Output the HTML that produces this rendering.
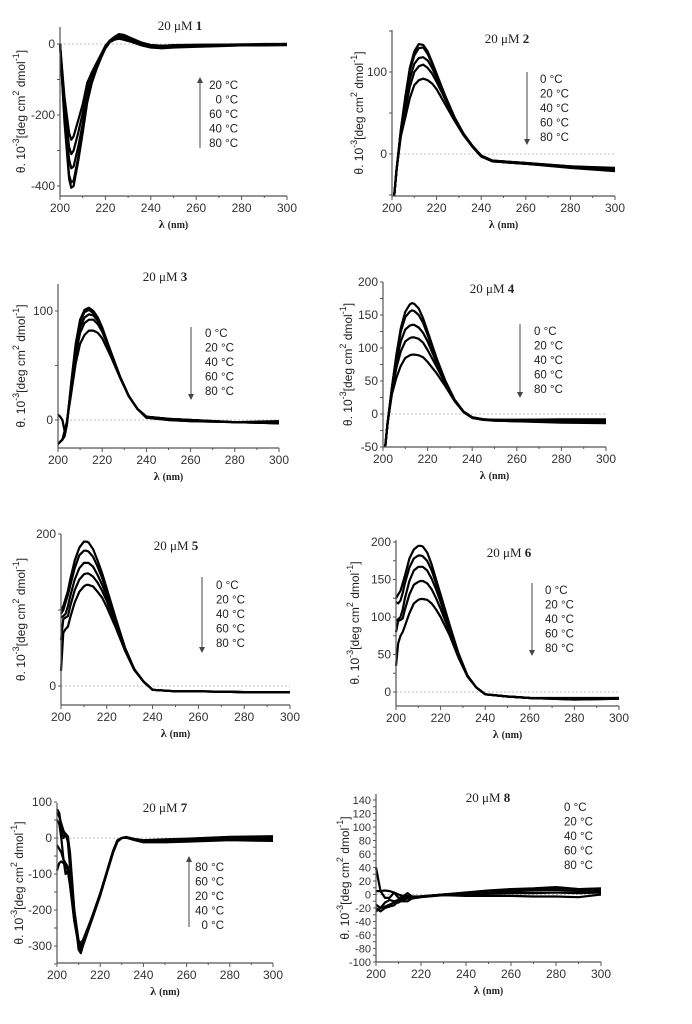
<!DOCTYPE html>
<html><head><meta charset="utf-8"><style>
html,body{margin:0;padding:0;background:#fff;}
svg{display:block;font-family:"Liberation Sans",Arial,sans-serif;}
</style></head><body>
<svg id="fig" width="692" height="1024" viewBox="0 0 692 1024" xmlns="http://www.w3.org/2000/svg"></svg>
<script>
// ---- data ----
const temps = ["0 °C","20 °C","40 °C","60 °C","80 °C"];
const w1 = [200,202,204,205,206,208,210,212,214,216,218,220,222,224,226,228,232,236,240,245,250,260,270,280,290,300];
const p1_0 = [0,-170,-290,-310,-300,-250,-195,-130,-90,-60,-33,-8,10,20,25,22,12,3,-3,-5,-4,-3,-2,-2,-1,0];
const p1_20 = [0,-150,-250,-270,-260,-215,-170,-110,-80,-55,-30,-5,10,18,20,18,10,2,-3,-5,-3,-2,-2,-1,0,0];
const p1_40 = [0,-210,-370,-390,-385,-320,-240,-160,-105,-70,-38,-10,8,20,28,26,15,4,-3,-6,-4,-3,-2,-2,-1,0];
const p1_60 = [0,-190,-325,-350,-345,-290,-225,-150,-100,-65,-35,-8,8,18,22,20,10,2,-5,-8,-6,-4,-3,-2,-2,-1];
const p1_80 = [0,-220,-380,-405,-400,-330,-250,-165,-110,-72,-40,-12,5,12,15,12,5,-4,-10,-12,-10,-8,-6,-4,-4,-3];
const w2 = [201,202,204,206,208,210,212,214,216,218,220,224,228,232,236,240,245,250,260,280,300];
const p2_0 = [-55,-20,30,70,105,125,134,133,125,112,98,70,45,25,10,-2,-8,-9,-11,-15,-17];
const p2_20 = [-55,-20,30,70,102,120,129,130,122,110,96,70,45,25,10,-2,-8,-9,-11,-15,-18];
const p2_40 = [-55,-20,28,62,92,110,117,118,114,105,93,68,44,25,10,-2,-8,-10,-12,-16,-20];
const p2_60 = [-55,-20,25,55,82,100,107,109,105,98,88,66,43,24,9,-3,-9,-10,-12,-17,-21];
const p2_80 = [-55,-20,22,45,68,84,90,92,90,86,79,60,41,23,9,-3,-9,-10,-12,-16,-19];
const w3 = [200,201,202,203,204,206,208,210,212,214,216,218,220,224,228,232,236,240,250,260,280,300];
const p3_0 = [5,3,0,-10,-5,35,70,92,101,103,100,94,85,62,40,22,10,3,1,0,-2,-1];
const p3_20 = [-22,-20,-18,-15,-5,33,68,90,99,101,98,93,84,62,40,22,10,3,1,0,-2,-2];
const p3_40 = [-22,-20,-18,-12,-3,32,65,85,94,97,96,91,83,62,40,22,10,3,1,0,-2,-3];
const p3_60 = [-22,-20,-18,-12,-3,30,60,80,89,92,92,88,81,61,40,22,10,3,0,-1,-2,-3];
const p3_80 = [-22,-20,-18,-10,-2,25,52,70,78,82,82,80,75,58,39,22,10,2,0,-1,-2,-3];
const w4 = [201,202,204,206,208,210,212,213,214,216,218,220,224,228,232,236,240,245,250,260,280,300];
const p4_0 = [-50,-15,40,90,130,155,166,168,167,160,145,125,85,50,22,4,-5,-8,-9,-9,-8,-8];
const p4_20 = [-50,-15,40,88,125,147,155,157,156,150,138,120,82,50,22,4,-5,-8,-9,-9,-9,-9];
const p4_40 = [-50,-15,38,80,110,128,134,135,135,131,123,110,78,48,22,4,-5,-8,-9,-10,-10,-10];
const p4_60 = [-50,-15,35,70,95,110,115,116,116,114,108,97,72,46,21,4,-5,-8,-10,-11,-12,-13];
const p4_80 = [-50,-15,30,55,73,85,89,90,90,89,86,79,62,42,20,3,-6,-9,-10,-11,-13,-14];
const w5 = [200,201,202,203,204,206,208,210,211,212,214,216,218,220,224,228,232,236,240,250,260,280,300];
const p5_0 = [100,105,115,125,140,165,182,190,190,189,180,165,148,128,88,50,22,6,-5,-7,-7,-8,-8];
const p5_20 = [95,100,110,120,132,155,172,178,178,177,170,157,142,124,86,50,22,6,-5,-7,-7,-8,-8];
const p5_40 = [90,92,95,105,118,140,155,162,162,162,157,146,133,118,84,49,22,6,-5,-7,-7,-8,-8];
const p5_60 = [60,88,90,92,105,126,140,147,148,148,144,136,125,112,80,48,21,6,-5,-7,-7,-8,-8];
const p5_80 = [20,70,75,78,90,110,124,131,133,133,131,124,116,104,76,46,21,6,-5,-7,-7,-8,-8];
const w6 = [200,201,202,203,204,206,208,210,211,212,214,216,218,220,224,228,232,236,240,250,260,280,300];
const p6_0 = [125,130,135,145,155,178,190,195,195,194,186,170,150,130,90,52,22,6,-3,-6,-8,-8,-8];
const p6_20 = [120,118,122,132,145,166,178,182,182,181,175,162,145,126,88,51,22,6,-3,-6,-8,-9,-8];
const p6_40 = [95,97,100,110,125,148,162,167,167,167,162,151,137,120,85,50,22,6,-3,-6,-8,-9,-9];
const p6_60 = [80,95,96,98,110,130,143,147,148,148,145,137,125,111,81,48,21,6,-3,-6,-8,-10,-9];
const p6_80 = [35,65,75,80,88,105,118,123,124,124,123,118,110,100,76,46,21,6,-3,-6,-8,-10,-9];
const w7 = [200,201,202,203,204,205,206,208,210,211,212,214,216,218,220,222,224,226,228,230,232,236,240,250,260,280,300];
const p7_0 = [80,70,30,0,12,5,-40,-200,-310,-320,-300,-265,-230,-195,-160,-120,-80,-40,-10,0,2,-5,-10,-9,-7,-3,-5];
const p7_20 = [-20,-30,-40,-60,-70,-80,-120,-220,-295,-305,-290,-258,-226,-190,-155,-116,-76,-36,-7,0,1,-5,-10,-8,-5,0,0];
const p7_40 = [50,40,0,-60,-100,-90,-130,-230,-300,-310,-295,-260,-228,-192,-158,-118,-78,-38,-8,0,1,-6,-12,-12,-10,-6,-8];
const p7_60 = [-90,-70,-65,-70,-75,-90,-130,-230,-290,-298,-288,-256,-224,-190,-155,-116,-76,-36,-7,0,2,-3,-7,-5,-3,2,3];
const p7_80 = [70,60,40,20,10,-10,-80,-200,-285,-292,-284,-254,-222,-188,-154,-115,-75,-35,-6,0,3,-3,-6,-4,-2,3,5];
const w8 = [200,202,204,206,208,210,212,214,216,220,230,240,250,260,270,280,290,300];
const p8_0 = [40,5,-5,-5,3,0,-2,-2,-4,-3,0,2,5,7,8,10,8,8];
const p8_20 = [5,5,6,5,3,-5,-3,2,-3,-3,0,2,4,5,6,7,5,6];
const p8_40 = [-25,-20,-12,-8,-10,-8,-5,-5,-4,-3,-1,0,1,2,2,3,2,3];
const p8_60 = [-15,-20,-18,-15,-12,-12,-8,-6,-5,-3,0,3,6,8,9,11,8,9];
const p8_80 = [-20,-25,-20,-18,-16,-10,-10,-10,-6,-4,-1,-2,-2,-2,-3,-3,-4,0];
const xTicks = [200,220,240,260,280,300];
const yT1 = [0,-200,-400], yT2 = [100,0], yT3 = [100,0], yT4 = [200,150,100,50,0,-50];
const yT5 = [200,0], yT6 = [200,150,100,50,0], yT7 = [100,0,-100,-200,-300];
const yT8 = [140,120,100,80,60,40,20,0,-20,-40,-60,-80,-100];
const leg1 = ["20 °C","0 °C","60 °C","40 °C","80 °C"];
const leg7 = ["80 °C","60 °C","20 °C","40 °C","0 °C"];

// ---- layout (geometry only) ----
const panels = [
 {id:1,L:60,R:287,T:27,B:196,y0:44,yv0:0,y1:186,yv1:-400,ymin:-428,ymax:47,minor:100,yt:yT1,w:w1,s:[p1_0,p1_20,p1_40,p1_60,p1_80],tx:180,ty:25,leg:leg1,lx:238,ly:85,anchor:"end",ax:200,a1:148,a2:80,ytx:22},
 {id:2,L:392,R:615,T:30,B:196,y0:154,yv0:0,y1:72,yv1:100,ymin:-51,ymax:151,minor:50,yt:yT2,w:w2,s:[p2_0,p2_20,p2_40,p2_60,p2_80],tx:507,ty:38,leg:temps,lx:540,ly:79,anchor:"start",ax:527,a1:72,a2:142,ytx:360},
 {id:3,L:58,R:279,T:284,B:448,y0:420,yv0:0,y1:311,yv1:100,ymin:-25,ymax:125,minor:50,yt:yT3,w:w3,s:[p3_0,p3_20,p3_40,p3_60,p3_80],tx:165,ty:276,leg:temps,lx:205,ly:333,anchor:"start",ax:191,a1:327,a2:397,ytx:22},
 {id:4,L:383,R:606,T:282,B:447,y0:414,yv0:0,y1:282,yv1:200,ymin:-50,ymax:200,minor:25,yt:yT4,w:w4,s:[p4_0,p4_20,p4_40,p4_60,p4_80],tx:492,ty:288,leg:temps,lx:534,ly:331,anchor:"start",ax:520,a1:324,a2:395,ytx:349},
 {id:5,L:61,R:290,T:534,B:705,y0:686,yv0:0,y1:534,yv1:200,ymin:-25,ymax:200,minor:100,yt:yT5,w:w5,s:[p5_0,p5_20,p5_40,p5_60,p5_80],tx:176,ty:545,leg:temps,lx:216,ly:585,anchor:"start",ax:202,a1:577,a2:650,ytx:22},
 {id:6,L:396,R:619,T:540,B:706,y0:692,yv0:0,y1:542,yv1:200,ymin:-19,ymax:203,minor:25,yt:yT6,w:w6,s:[p6_0,p6_20,p6_40,p6_60,p6_80],tx:509,ty:552,leg:temps,lx:545,ly:590,anchor:"start",ax:532,a1:583,a2:653,ytx:356},
 {id:7,L:57,R:273,T:803,B:963,y0:838,yv0:0,y1:946,yv1:-300,ymin:-350,ymax:100,minor:50,yt:yT7,w:w7,s:[p7_0,p7_20,p7_40,p7_60,p7_80],tx:165,ty:807,leg:leg7,lx:224,ly:867,anchor:"end",ax:189,a1:927,a2:859,ytx:20},
 {id:8,L:376,R:601,T:794,B:962,y0:800,yv0:140,y1:962,yv1:-100,ymin:-100,ymax:149,minor:10,yt:yT8,w:w8,s:[p8_0,p8_20,p8_40,p8_60,p8_80],tx:488,ty:797,leg:temps,lx:564,ly:807,anchor:"start",ax:null,ytx:346}
];
const NS="http://www.w3.org/2000/svg";
const svg=document.getElementById('fig');
function mk(tag,attrs,parent){const e=document.createElementNS(NS,tag);for(const k in attrs)e.setAttribute(k,attrs[k]);(parent||svg).appendChild(e);return e;}
const defs=mk('defs',{});
const mU=mk('marker',{id:'ahU',markerWidth:6,markerHeight:6,refX:3,refY:3,orient:'auto'},defs);
mk('path',{d:'M0,0 L6,3 L0,6 z',fill:'#444'},mU);

panels.forEach(p=>{
  const g=mk('g',{});
  
  
  const sx=v=>p.L+(v-200)/100*(p.R-p.L);
  const sy=v=>p.y0+(v-p.yv0)*(p.y1-p.y0)/(p.yv1-p.yv0);
  // zero line
  const z=mk('line',{x1:p.L,x2:p.R,y1:sy(0),y2:sy(0),stroke:'#aaa','stroke-width':0.8,'stroke-dasharray':'2,2'},g);
  
  
  // series
  p.s.forEach((arr,i)=>{
    let d='';
    arr.forEach((v,j)=>{const yy=Math.max(p.T,Math.min(p.B,sy(v)));d+=(j?'L':'M')+sx(p.w[j]).toFixed(1)+','+yy.toFixed(1);});
    const path=mk('path',{d:d,fill:'none',stroke:'#000','stroke-width':2.2,'stroke-linejoin':'round'},g);
    
    
  });
  // axes
  const ax=mk('path',{d:`M${p.L},${p.T} L${p.L},${p.B} L${p.R},${p.B}`,fill:'none',stroke:'#555','stroke-width':1.2},g);
  
  
  for(let v=200;v<=300;v+=10){
    const t=mk('line',{x1:sx(v),x2:sx(v),y1:p.B,y2:p.B+(v%20?2:4),stroke:'#555','stroke-width':1},g);
    
    
  }
  xTicks.forEach(v=>{
    const t=mk('text',{x:sx(v),y:p.B+16,'text-anchor':'middle','font-size':12,fill:'#333'},g);
    t.textContent=v;
    
    
  });
  for(let v=Math.ceil(p.ymin/p.minor)*p.minor;v<=p.ymax;v+=p.minor){
    const t=mk('line',{x1:p.L-3,x2:p.L,y1:sy(v),y2:sy(v),stroke:'#555','stroke-width':1},g);
    
    
  }
  p.yt.forEach(v=>{
    const t=mk('text',{x:p.L-5,y:sy(v)+4,'text-anchor':'end','font-size':p.id==8?11:12,fill:'#333'},g);
    t.textContent=v;
    
    
  });
  // titles
  const tt=mk('text',{x:p.tx,y:p.ty+5,'text-anchor':'middle','font-size':13,'font-family':'Liberation Serif, serif',fill:'#222'},g);
  tt.innerHTML='20 μM <tspan font-weight="bold">'+p.id+'</tspan>';
  
  
  const xl=mk('text',{x:(p.L+p.R)/2,y:p.B+32,'text-anchor':'middle','font-size':12,'font-family':'Liberation Serif, serif','font-weight':'bold',fill:'#222'},g);
  xl.innerHTML='λ <tspan font-size="10">(nm)</tspan>';
  
  
  const yc=(p.T+p.B)/2;
  const yl=mk('text',{x:p.ytx,y:yc,'text-anchor':'middle','font-size':12,fill:'#222',transform:`rotate(-90 ${p.ytx} ${yc})`,'dominant-baseline':'middle'},g);
  yl.innerHTML='θ. 10<tspan dy="-5" font-size="9">-3</tspan><tspan dy="5">[deg cm</tspan><tspan dy="-5" font-size="9">2</tspan><tspan dy="5"> dmol</tspan><tspan dy="-5" font-size="9">-1</tspan><tspan dy="5">]</tspan>';
  
  
  // legend
  p.leg.forEach((s,i)=>{
    const t=mk('text',{x:p.lx,y:p.ly+i*14.5+4,'text-anchor':p.anchor,'font-size':11.5,fill:'#222'},g);
    t.textContent=s;
    
    
  });
  if(p.ax!==null){
    const a=mk('line',{x1:p.ax,x2:p.ax,y1:p.a1,y2:p.a2,stroke:'#444','stroke-width':1,'marker-end':'url(#ahU)'},g);
    
    
  }
});
</script>
</body></html>
